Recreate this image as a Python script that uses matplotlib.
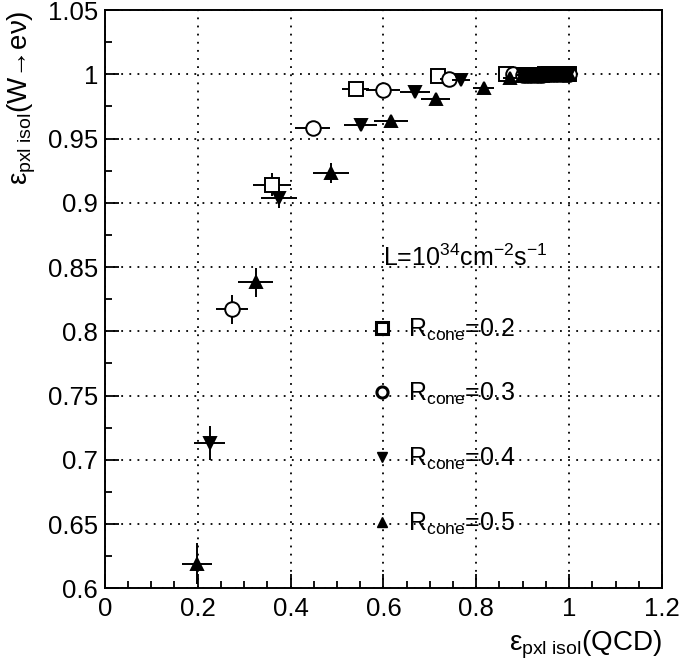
import matplotlib
matplotlib.use('Agg')
import matplotlib.pyplot as plt
from matplotlib.ticker import MultipleLocator, FuncFormatter
from matplotlib.lines import Line2D

plt.rcParams['font.family'] = ['Liberation Sans', 'DejaVu Sans']
plt.rcParams['mathtext.fontset'] = 'custom'
plt.rcParams['mathtext.rm'] = 'Liberation Sans'
plt.rcParams['mathtext.it'] = 'Liberation Sans'
plt.rcParams['mathtext.bf'] = 'Liberation Sans:bold'

# efficiency for QCD (x) vs efficiency for W->e nu (y), one set per cone size
cluster_x = [0.90, 0.907, 0.914, 0.921, 0.928, 0.935, 0.942, 0.949, 0.956,
             0.963, 0.97, 0.977, 0.984, 0.99, 0.995, 1.0]
cluster_y = [0.9994, 0.9995, 0.9996, 0.9997, 0.9997, 0.9998, 0.9998, 0.9999,
             0.9999, 1.0, 1.0, 1.0, 1.0, 1.0, 1.0, 1.0]
cluster_xerr = [0.012, 0.011, 0.011, 0.010, 0.010, 0.009, 0.008, 0.008,
                0.007, 0.006, 0.005, 0.005, 0.004, 0.003, 0.002, 0.001]
cluster_yerr = [0.001, 0.001, 0.001, 0.0009, 0.0008, 0.0007, 0.0006, 0.0005,
                0.0004, 0.0003, 0.0003, 0.0002, 0.0002, 0.0001, 0.0001, 0.0001]

r02_x = [0.36, 0.54, 0.718, 0.864] + cluster_x
r02_y = [0.914, 0.9885, 0.999, 1.0] + cluster_y
r02_xerr = [0.04, 0.03, 0.017, 0.015] + cluster_xerr
r02_yerr = [0.009, 0.004, 0.002, 0.001] + cluster_yerr

r03_x = [0.274, 0.448, 0.599, 0.741, 0.879] + cluster_x
r03_y = [0.817, 0.958, 0.988, 0.996, 1.0] + cluster_y
r03_xerr = [0.035, 0.038, 0.036, 0.02, 0.015] + cluster_xerr
r03_yerr = [0.011, 0.003, 0.003, 0.002, 0.001] + cluster_yerr

r04_x = [0.226, 0.375, 0.551, 0.668, 0.767] + cluster_x
r04_y = [0.713, 0.904, 0.9605, 0.986, 0.9955] + cluster_y
r04_xerr = [0.033, 0.038, 0.036, 0.033, 0.02] + cluster_xerr
r04_yerr = [0.013, 0.008, 0.004, 0.003, 0.002] + cluster_yerr

r05_x = [0.198, 0.325, 0.487, 0.616, 0.713, 0.816, 0.872] + cluster_x
r05_y = [0.619, 0.838, 0.923, 0.964, 0.981, 0.989, 0.997] + cluster_y
r05_xerr = [0.032, 0.038, 0.039, 0.036, 0.031, 0.022, 0.015] + cluster_xerr
r05_yerr = [0.016, 0.011, 0.008, 0.004, 0.003, 0.003, 0.002] + cluster_yerr

labels = ['R$_{\\rm cone}$=0.2', 'R$_{\\rm cone}$=0.3',
          'R$_{\\rm cone}$=0.4', 'R$_{\\rm cone}$=0.5']

fig = plt.figure(figsize=(6.99, 6.67), dpi=100)
ax = fig.add_axes([0.150, 0.118, 0.797, 0.867])

series = [
    (r02_x, r02_y, r02_xerr, r02_yerr, 's', 'white', 10.5),
    (r03_x, r03_y, r03_xerr, r03_yerr, 'o', 'white', 10.5),
    (r04_x, r04_y, r04_xerr, r04_yerr, 'v', 'black', 9),
    (r05_x, r05_y, r05_xerr, r05_yerr, '^', 'black', 9),
]
for i, (x, y, xe, ye, m, fc, ms) in enumerate(series):
    ax.errorbar(x, y, xerr=xe, yerr=ye, fmt='none', ecolor='black',
                elinewidth=1.4, capsize=0, zorder=3 + 2 * i)
    ax.plot(x, y, linestyle='none', marker=m, markersize=ms,
            markerfacecolor=fc, markeredgecolor='black', markeredgewidth=1.4,
            zorder=4 + 2 * i)

# legend (ROOT style, marker + text, no frame)
handles = [
    Line2D([], [], linestyle='none', marker='s', markersize=8, markerfacecolor='white',
           markeredgecolor='black', markeredgewidth=2.2),
    Line2D([], [], linestyle='none', marker='o', markersize=8, markerfacecolor='white',
           markeredgecolor='black', markeredgewidth=2.2),
    Line2D([], [], linestyle='none', marker='v', markersize=7, color='black'),
    Line2D([], [], linestyle='none', marker='^', markersize=7, color='black'),
]
ax.legend(handles, labels, loc='upper left', bbox_to_anchor=(0.484, 0.47),
          frameon=False, fontsize=18, handlelength=0.6, handletextpad=0.74,
          labelspacing=1.54, borderaxespad=0, borderpad=0)
ax.text(0.499, 0.571, 'L=10$^{34}$cm$^{-2}$s$^{-1}$', transform=ax.transAxes,
        fontsize=18, ha='left', va='center')

ax.set_xlim(0, 1.2)
ax.set_ylim(0.6, 1.05)
ax.xaxis.set_major_locator(MultipleLocator(0.2))
ax.xaxis.set_minor_locator(MultipleLocator(0.05))
ax.yaxis.set_major_locator(MultipleLocator(0.05))
ax.yaxis.set_minor_locator(MultipleLocator(0.025))
fmt = FuncFormatter(lambda v, p: '%g' % round(v, 3))
ax.xaxis.set_major_formatter(fmt)
ax.yaxis.set_major_formatter(fmt)
ax.tick_params(which='both', direction='in', top=False, right=False,
               labelsize=18.5, width=1.3)
ax.tick_params(which='major', length=10, pad=6)
ax.tick_params(which='minor', length=5)
ax.tick_params(axis='y', pad=5)

ax.grid(True, which='major', color='black', linestyle=(0, (1, 3.5)), linewidth=1.3)
for s in ax.spines.values():
    s.set_linewidth(1.4)

ax.set_xlabel('$ε_{\\rm pxl\\ isol}$(QCD)', fontsize=20, loc='right')
ax.xaxis.set_label_coords(1.0, -0.07)
ax.set_ylabel('$ε_{\\rm pxl\\ isol}$(W→eν)', fontsize=20, loc='top')
ax.yaxis.set_label_coords(-0.12, 1.0)

fig.savefig('out.png', dpi=100)
